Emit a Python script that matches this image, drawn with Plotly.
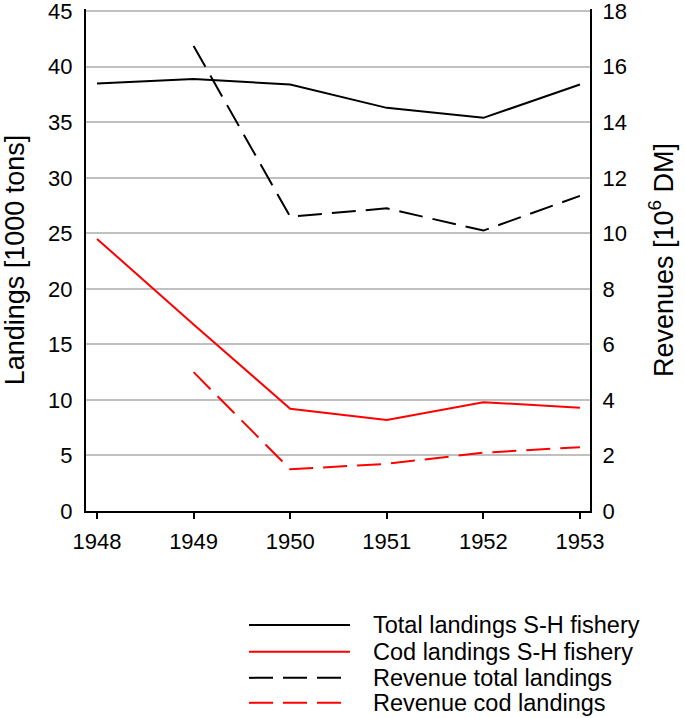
import plotly.graph_objects as go

years = [1948, 1949, 1950, 1951, 1952, 1953]
total_landings = [38.5, 38.9, 38.4, 36.3, 35.4, 38.4]
cod_landings = [24.5, 16.8, 9.2, 8.2, 9.8, 9.3]
rev_years = [1949, 1950, 1951, 1952, 1953]
revenue_total = [16.75, 10.6, 10.9, 10.1, 11.35]
revenue_cod = [5.0, 1.5, 1.7, 2.1, 2.3]

left_ticks = [0, 5, 10, 15, 20, 25, 30, 35, 40, 45]
right_ticks = [0, 2, 4, 6, 8, 10, 12, 14, 16, 18]

legend_names = ["Total landings S-H fishery", "Cod landings S-H fishery",
                "Revenue total landings", "Revenue cod landings"]

FONT = "Liberation Sans, Arial, sans-serif"
W, H = 685, 718
L, R, T, B = 86, 590, 8.5, 511  # plot area in pixels
DASH = "24px,10px"

fig = go.Figure()
fig.add_trace(go.Scatter(x=years, y=total_landings, mode="lines", name=legend_names[0],
                         line=dict(color="black", width=2), yaxis="y"))
fig.add_trace(go.Scatter(x=years, y=cod_landings, mode="lines", name=legend_names[1],
                         line=dict(color="#ff0000", width=2), yaxis="y"))
fig.add_trace(go.Scatter(x=rev_years, y=revenue_total, mode="lines", name=legend_names[2],
                         line=dict(color="black", width=2, dash=DASH), yaxis="y2"))
fig.add_trace(go.Scatter(x=rev_years, y=revenue_cod, mode="lines", name=legend_names[3],
                         line=dict(color="#ff0000", width=2, dash=DASH), yaxis="y2"))


def px2x(p):
    return (p - L) / (R - L)


def px2y(p):
    return (B - p) / (B - T)


# manual legend (long line samples as in the reference)
styles = [("black", None), ("#ff0000", None), ("black", DASH), ("#ff0000", DASH)]
rows = [625, 652, 678, 703]
shapes = []
annotations = []
for (col, dash), py, name in zip(styles, rows, legend_names):
    line = dict(color=col, width=2)
    if dash:
        line["dash"] = dash
    shapes.append(dict(type="line", xref="paper", yref="paper",
                       x0=px2x(249), x1=px2x(350), y0=px2y(py), y1=px2y(py), line=line))
    annotations.append(dict(text=name, xref="paper", yref="paper", x=px2x(371), y=px2y(py),
                            xanchor="left", yanchor="middle", showarrow=False,
                            font=dict(family=FONT, size=23.5, color="black")))

fig.update_layout(
    width=W, height=H,
    margin=dict(l=L, r=W - R, t=T, b=H - B, autoexpand=False),
    paper_bgcolor="white", plot_bgcolor="white",
    showlegend=False,
    font=dict(family=FONT, size=22, color="black"),
    xaxis=dict(range=[1947.886, 1953.104], tickvals=years, ticktext=[str(y) for y in years],
               showgrid=False, showline=True, linecolor="black", linewidth=2,
               ticks="outside", ticklen=6, tickwidth=1.5, tickcolor="black",
               ticklabelstandoff=4, zeroline=False, tickfont=dict(size=22)),
    yaxis=dict(range=[0, 45.2], tickvals=left_ticks,
               showgrid=True, gridcolor="#c0c0c0", gridwidth=1.5,
               showline=True, linecolor="black", linewidth=2, zeroline=False,
               ticks="", ticklabelstandoff=7, ticklabeloverflow="allow",
               tickfont=dict(size=22),
               title=dict(text="Landings [1000 tons]", font=dict(size=27), standoff=16)),
    yaxis2=dict(range=[0, 18.08], tickvals=right_ticks,
                overlaying="y", side="right", showgrid=False,
                showline=True, linecolor="black", linewidth=2, zeroline=False,
                ticks="", ticklabelstandoff=6, ticklabeloverflow="allow",
                tickfont=dict(size=22),
                title=dict(text="Revenues [10<sup>6</sup> DM]", font=dict(size=27), standoff=28)),
    shapes=shapes,
    annotations=annotations,
)

fig.write_html("out.html", config={"displayModeBar": False},
               post_script="document.body.style.margin='0';document.body.style.padding='0';")
